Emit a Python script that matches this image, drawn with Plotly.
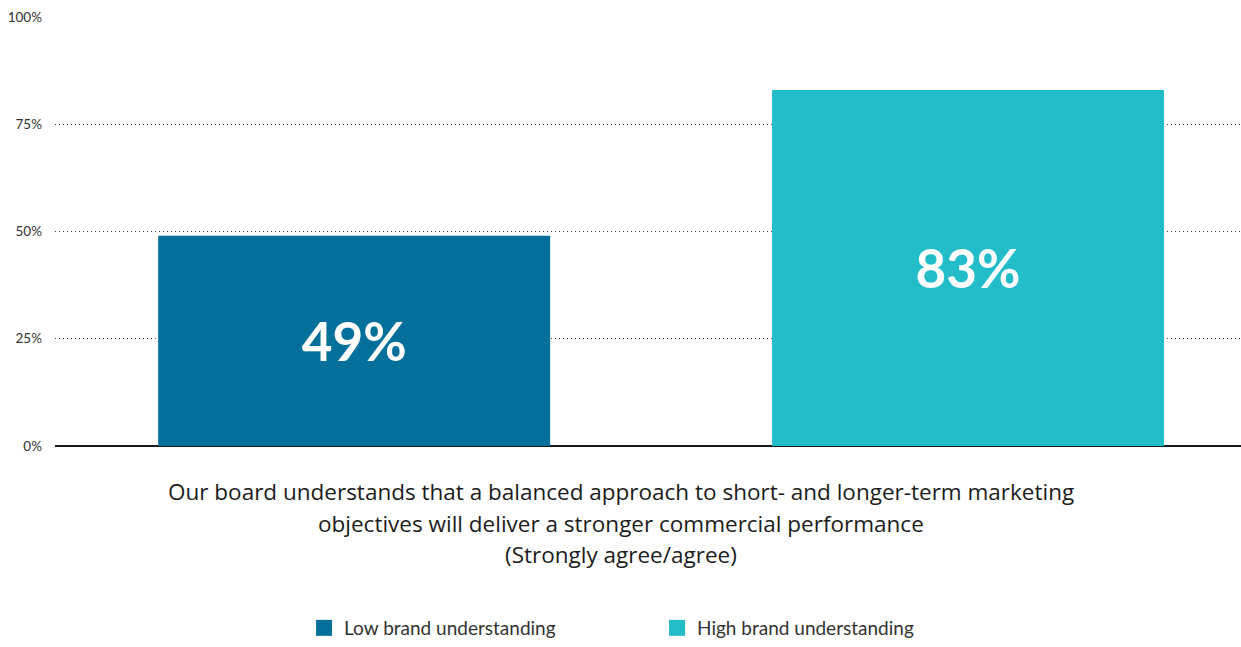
import plotly.graph_objects as go

# Survey result: share who strongly agree/agree, split by brand understanding
groups = ["Low brand understanding", "High brand understanding"]
values = [49, 83]
colors = ["#03709b", "#22bdc9"]
question_lines = [
    "Our board understands that a balanced approach to short- and longer-term marketing",
    "objectives will deliver a stronger commercial performance",
    "(Strongly agree/agree)",
]
y_ticks = [0, 25, 50, 75, 100]
y_tick_labels = ["0%", "25%", "50%", "75%", "100%"]

FONT = "Lato"
TEXT_FONT = "Open Sans"
category = "q"

fig = go.Figure()

bar_offsets = [-0.413, 0.1046]
for name, val, col, off in zip(groups, values, colors, bar_offsets):
    fig.add_trace(go.Bar(
        x=[category], y=[val], name=name,
        marker=dict(color=col, line=dict(width=0)),
        width=0.3305, offset=off,
        text=[f"{val}%"], textposition="inside", insidetextanchor="middle",
        textangle=0,
        textfont=dict(family=FONT, size=53, color="white", weight="bold"),
        showlegend=False, hoverinfo="skip",
    ))
    # legend entry with a large square swatch
    fig.add_trace(go.Scatter(
        x=[None], y=[None], mode="markers", name=name,
        marker=dict(symbol="square", size=22, color=col),
        showlegend=True,
    ))

for i, line in enumerate(question_lines):
    fig.add_annotation(
        text=line, xref="paper", yref="paper",
        x=0.477, y=-0.107 - i * 0.0735, xanchor="center", yanchor="middle",
        showarrow=False,
        font=dict(family=TEXT_FONT, size=22.5, color="#1c1c1c", weight=500),
    )

fig.update_layout(
    width=1241, height=647,
    margin=dict(l=55, r=0, t=17, b=201),
    plot_bgcolor="white", paper_bgcolor="white",
    barmode="overlay",
    xaxis=dict(
        type="category", range=[-0.5, 0.5],
        showticklabels=False, showgrid=False, zeroline=False,
        showline=False, fixedrange=True,
    ),
    yaxis=dict(
        range=[0, 100], tickvals=y_ticks, ticktext=y_tick_labels,
        showgrid=True, gridcolor="#444444", griddash="1px,3px", gridwidth=1,
        zeroline=True, zerolinecolor="#1a1a1a", zerolinewidth=2,
        showline=False, ticks="", ticklabelstandoff=12,
        tickfont=dict(family=FONT, size=13.5, color="#333333"),
        fixedrange=True,
    ),
    legend=dict(
        orientation="h", x=0.210, xanchor="left", y=-0.4685, yanchor="bottom",
        font=dict(family=FONT, size=19, color="#333333"),
        entrywidth=308, entrywidthmode="pixels",
        itemsizing="trace", bgcolor="rgba(0,0,0,0)",
    ),
    showlegend=True,
)

fig.write_html("out.html")
